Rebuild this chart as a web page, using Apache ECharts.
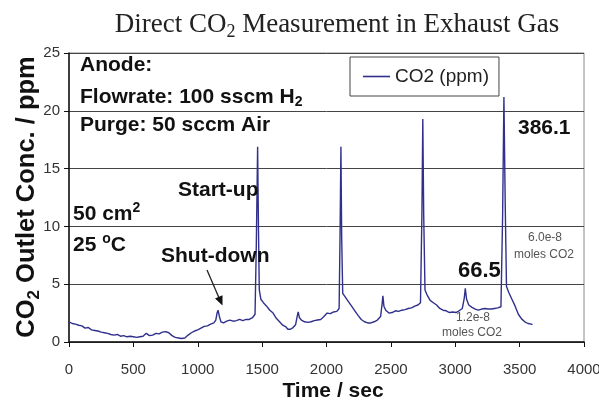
<!DOCTYPE html>
<html>
<head>
<meta charset="utf-8">
<script src="https://cdn.jsdelivr.net/npm/echarts@6/dist/echarts.min.js"></script>
<style>
html,body{margin:0;padding:0;background:#fff;}
#chart{width:599px;height:414px;}
</style>
</head>
<body>
<div id="chart"></div>
<script>
// ---- data ----
const timeSec = [0,25,50,75,100,125,150,175,200,225,250,275,300,325,350,375,400,425,450,475,500,525,550,575,600,625,650,675,700,725,750,775,800,825,850,875,900,925,950,975,1000,1025,1050,1075,1100,1125,1140,1150,1158,1168,1180,1200,1225,1250,1275,1300,1325,1350,1375,1400,1425,1445,1455,1465,1472,1478,1490,1510,1535,1560,1585,1610,1635,1660,1685,1700,1720,1740,1760,1772,1780,1790,1805,1830,1855,1880,1905,1930,1955,1980,2005,2030,2055,2080,2098,2106,2112,2118,2126,2145,2170,2195,2220,2245,2270,2295,2320,2345,2370,2395,2420,2432,2438,2446,2460,2485,2510,2535,2560,2585,2610,2635,2660,2685,2710,2730,2741,2748,2755,2765,2780,2805,2830,2855,2880,2905,2930,2955,2980,3005,3030,3055,3070,3078,3088,3105,3130,3155,3180,3205,3230,3255,3280,3305,3330,3355,3368,3378,3388,3398,3415,3440,3465,3490,3515,3540,3565,3590,3600];
const co2ppm = [1.75,1.6,1.55,1.45,1.4,1.2,1.25,1.05,1.0,0.95,0.85,0.8,0.75,0.65,0.6,0.65,0.5,0.55,0.45,0.5,0.45,0.4,0.45,0.5,0.75,0.55,0.6,0.75,0.7,0.85,0.9,0.8,0.55,0.4,0.35,0.3,0.35,0.6,0.8,0.95,1.05,1.2,1.35,1.4,1.55,1.65,1.9,2.5,2.75,2.2,1.75,1.65,1.8,1.9,1.8,1.85,1.95,1.85,1.95,1.95,2.1,2.4,8.5,16.9,9.5,4.5,3.7,3.4,3.1,2.75,2.5,2.05,1.75,1.45,1.3,1.1,1.1,1.25,1.5,2.2,2.6,2.1,1.9,1.75,1.7,1.75,1.85,1.9,1.95,2.2,2.5,2.45,2.6,2.65,2.9,10,16.9,9,4.2,3.9,3.5,3.1,2.7,2.3,1.95,1.75,1.65,1.65,1.75,1.9,2.2,3.3,4.0,3.1,2.75,2.5,2.55,2.7,2.65,2.75,2.8,2.9,2.95,3.1,3.2,3.4,11,19.3,11,4.5,4.1,3.6,3.4,3.2,2.9,2.75,2.7,2.55,2.6,2.55,2.7,2.9,3.8,4.65,3.7,3.2,3.0,2.85,2.75,2.85,2.9,2.85,2.85,2.9,2.95,3.05,11,21.2,12,4.8,4.3,3.7,3.1,2.4,2.0,1.75,1.6,1.55,1.5];
const seriesName = 'CO2 (ppm)';
const xTicks = {min:0, max:4000, step:500};
const yTicks = {min:0, max:25, step:5};

const SANS = 'Liberation Sans, Arial, sans-serif';
const SERIF = 'Liberation Serif, Times New Roman, serif';

function txt(x, y, text, size, opts) {
  opts = opts || {};
  const weight = opts.weight || 'bold';
  const fam = opts.family || SANS;
  const fill = opts.fill || '#111';
  const sub = {fontSize: Math.round(size*0.66), fontWeight: weight, fontFamily: fam, fill: fill, verticalAlign: 'bottom', lineHeight: Math.round(size*0.5)};
  const sup = {fontSize: Math.round(size*0.66), fontWeight: weight, fontFamily: fam, fill: fill, verticalAlign: 'top', lineHeight: Math.round(size*0.5)};
  const base = {fontSize: size, fontWeight: weight, fontFamily: fam, fill: fill, lineHeight: Math.round(size*1.2)};
  return {
    type: 'text', x: x, y: y, rotation: opts.rotation || 0, z: 100,
    style: Object.assign({}, base, {
      text: text,
      align: opts.align || 'left', textAlign: opts.align || 'left',
      verticalAlign: 'middle', textVerticalAlign: 'middle',
      rich: {n: base, sub: sub, sup: sup}
    })
  };
}

const chart = echarts.init(document.getElementById('chart'), null, {renderer: 'canvas'});
const option = {
  backgroundColor: '#fff',
  animation: false,
  grid: {left: 69, right: 15, top: 53, bottom: 72, show: true, borderColor: '#8a8a8a', borderWidth: 1, containLabel: false, outerBoundsMode: 'none'},
  legend: {
    left: 350, top: 57,
    padding: [9, 10, 9, 13],
    borderColor: '#444', borderWidth: 1, backgroundColor: '#fff',
    icon: 'rect', itemWidth: 27, itemHeight: 1.6, itemGap: 5,
    textStyle: {fontFamily: SANS, fontSize: 19, color: '#222', lineHeight: 21},
    data: [{name: seriesName}]
  },
  xAxis: {
    type: 'value', min: xTicks.min, max: xTicks.max, interval: xTicks.step,
    axisLine: {show: true, lineStyle: {color: '#111', width: 1.5}},
    axisTick: {show: true, length: 5, lineStyle: {color: '#111'}},
    axisLabel: {fontFamily: SANS, fontSize: 15, color: '#333', margin: 20, formatter: v => String(v)},
    splitLine: {show: false}
  },
  yAxis: {
    type: 'value', min: yTicks.min, max: yTicks.max, interval: yTicks.step,
    axisLine: {show: true, lineStyle: {color: '#111', width: 1.5}},
    axisTick: {show: true, length: 5, lineStyle: {color: '#111'}},
    axisLabel: {fontFamily: SANS, fontSize: 15, color: '#333', margin: 9, formatter: v => String(v)},
    splitLine: {show: true, lineStyle: {color: '#444', width: 1}}
  },
  series: [{
    name: seriesName, type: 'line', symbol: 'none', showSymbol: false,
    lineStyle: {color: '#30308c', width: 1.4}, itemStyle: {color: '#30308c'},
    data: timeSec.map((t, i) => [t, co2ppm[i]]),
    z: 5
  }],
  graphic: [
    txt(337, 25, 'Direct CO{sub|2} Measurement in Exhaust Gas', 27, {weight: 'normal', family: SERIF, fill: '#222', align: 'center'}),
    txt(27, 197, 'CO{sub|2} Outlet Conc. / ppm', 25.5, {rotation: Math.PI/2, align: 'center'}),
    txt(333, 391, 'Time / sec', 21, {align: 'center'}),
    txt(80, 65, 'Anode:', 21),
    txt(80, 97, 'Flowrate: 100 sscm H{sub|2}', 21),
    txt(80, 125, 'Purge: 50 sccm Air', 21),
    txt(178, 190, 'Start-up', 21),
    txt(73, 214, '50 cm{sup|2}', 21),
    txt(73, 245, '25 {sup|o}C', 21),
    txt(161, 256, 'Shut-down', 21),
    txt(458, 271, '66.5', 22),
    txt(518, 128, '386.1', 21),
    txt(545, 238, '6.0e-8', 12, {weight: 'normal', fill: '#555', align: 'center'}),
    txt(544, 255, 'moles CO2', 12, {weight: 'normal', fill: '#555', align: 'center'}),
    txt(473, 318, '1.2e-8', 12, {weight: 'normal', fill: '#555', align: 'center'}),
    txt(472, 333, 'moles CO2', 12, {weight: 'normal', fill: '#555', align: 'center'}),
    {type: 'line', z: 100, shape: {x1: 207, y1: 270, x2: 219.5, y2: 299}, style: {stroke: '#222', lineWidth: 1.3}},
    {type: 'polygon', z: 100, shape: {points: [[222.5, 305.5], [215, 298.5], [222.5, 295.3]]}, style: {fill: '#111'}}
  ]
};
chart.setOption(option);
</script>
</body>
</html>
